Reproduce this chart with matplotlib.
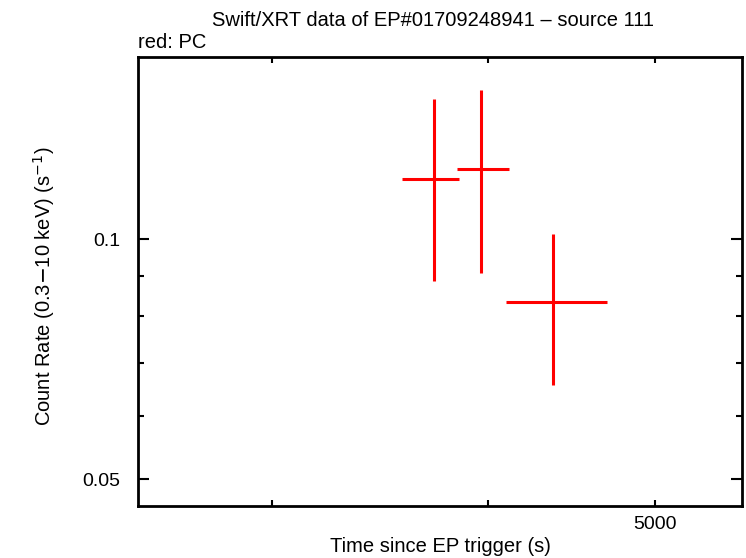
import numpy as np
import matplotlib.pyplot as plt
from matplotlib.ticker import FixedLocator, NullFormatter, FixedFormatter

plt.rcParams['font.family'] = ['Liberation Sans', 'DejaVu Sans']

# data
t = [3722, 3967, 4364]
t_lo = [3568, 3840, 4099]
t_hi = [3851, 4116, 4692]
rate = [0.1191, 0.1223, 0.0835]
rate_lo = [0.0886, 0.0908, 0.0657]
rate_hi = [0.1498, 0.1538, 0.1015]

t = np.array(t); rate = np.array(rate)
xerr = [t - np.array(t_lo), np.array(t_hi) - t]
yerr = [rate - np.array(rate_lo), np.array(rate_hi) - rate]

fig = plt.figure(figsize=(7.46, 5.58), dpi=100)
ax = fig.add_axes((138/746, 52/558, 604/746, 449/558))

ax.errorbar(t, rate, xerr=xerr, yerr=yerr, fmt='none', ecolor='#ff0000',
            elinewidth=2.2, capsize=0)

ax.set_xscale('log')
ax.set_yscale('log')
ax.set_xlim(2511, 5613)
ax.set_ylim(0.04627, 0.1692)

# x ticks
ax.xaxis.set_major_locator(FixedLocator([5000]))
ax.xaxis.set_major_formatter(FixedFormatter(['5000']))
ax.xaxis.set_minor_locator(FixedLocator([3000, 4000]))
ax.xaxis.set_minor_formatter(NullFormatter())
# y ticks
ax.yaxis.set_major_locator(FixedLocator([0.05, 0.1]))
ax.yaxis.set_major_formatter(FixedFormatter(['0.05', '0.1']))
ax.yaxis.set_minor_locator(FixedLocator([0.06, 0.07, 0.08, 0.09]))
ax.yaxis.set_minor_formatter(NullFormatter())

ax.tick_params(which='both', direction='in', top=True, right=True,
               width=1.5, labelsize=14, colors='black')
ax.tick_params(axis='y', which='major', length=8, pad=13)
ax.tick_params(axis='y', which='minor', length=4)
ax.tick_params(axis='x', which='both', length=4, pad=7)
for s in ax.spines.values():
    s.set_linewidth(2)

ax.set_xlabel('Time since EP trigger (s)', fontsize=14.5, labelpad=3)
ax.set_ylabel('Count Rate (0.3$-$10 keV) (s$^{-1}$)', fontsize=14.5)
ax.yaxis.set_label_coords(-0.134, 0.49)

fig.text(433/746, 1 - 20/558, 'Swift/XRT data of EP#01709248941 \u2013 source 111',
         ha='center', va='center', fontsize=14.5)
fig.text(138/746, 1 - 43/558, 'red: PC', ha='left', va='center', fontsize=14.5)

plt.savefig('out.png', dpi=100)
